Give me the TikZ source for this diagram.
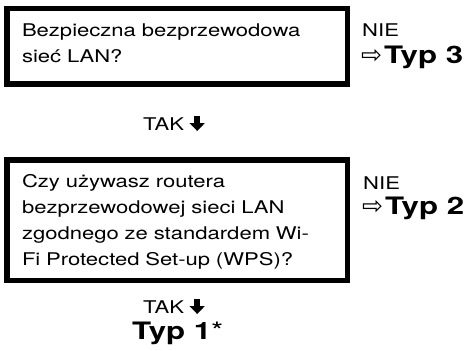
\documentclass[tikz,border=0pt]{standalone}
\usepackage{fontspec}
\usetikzlibrary{arrows.meta}
\setmainfont{TeX Gyre Heros}[FakeStretch=1.26]
\newfontfamily\typfont{TeX Gyre Heros}[FakeStretch=1.3]
\newfontfamily\symfont{DejaVu Sans}
\begin{document}
\begin{tikzpicture}[x=1pt,y=-1pt,
 question/.style={draw,line width=5.5pt,anchor=north west,outer sep=0pt,inner xsep=15.25pt,inner ysep=0pt,text width=310pt,align=left,font=\fontsize{17.5}{26}\selectfont},
 answer/.style={anchor=base west,inner sep=0pt,font=\fontsize{17.5}{26}\selectfont},
 result/.style={font=\typfont\bfseries\fontsize{24}{26}\selectfont},
 downarrow/.style={line width=6pt,-{Triangle[width=15pt,length=8pt]}}
]
\useasboundingbox (0,0) rectangle (470,350);
% pytania
\node[question,text height=28.25pt,text depth=47.25pt] (q1) at (6.75,8.75) {Bezpieczna bezprzewodowa\\sieć LAN?};
\node[question,text height=27.75pt,text depth=92.75pt] (q2) at (6.75,159.75) {Czy używasz routera\\bezprzewodowej sieci LAN\\zgodnego ze standardem Wi-\\Fi Protected Set-up (WPS)?};
% odpowiedzi NIE
\node[answer] (nie1) at (362,37) {NIE};
\node[answer] (typ3) at (361,63.5) {{\symfont\fontsize{25}{26}\selectfont ⇨}\hspace{2pt}{\typfont\bfseries\fontsize{24}{26}\selectfont Typ 3}};
\node[answer] (nie2) at (363,189) {NIE};
\node[answer] (typ2) at (362,214.5) {{\symfont\fontsize{25}{26}\selectfont ⇨}\hspace{2pt}{\typfont\bfseries\fontsize{24}{26}\selectfont Typ 2}};
% odpowiedzi TAK
\node[answer] (tak1) at (143,130) {TAK};
\draw[downarrow] ([xshift=13pt,yshift=1.5pt]tak1.north east) -- ([xshift=13pt,yshift=-1pt]tak1.base east);
\node[answer] (tak2) at (143,313) {TAK};
\draw[downarrow] ([xshift=13pt,yshift=1.5pt]tak2.north east) -- ([xshift=13pt,yshift=-1pt]tak2.base east);
\node[answer,result] (typ1) at (132,339) {Typ 1{\mdseries\fontsize{24}{26}\selectfont *}};
\end{tikzpicture}
\end{document}
